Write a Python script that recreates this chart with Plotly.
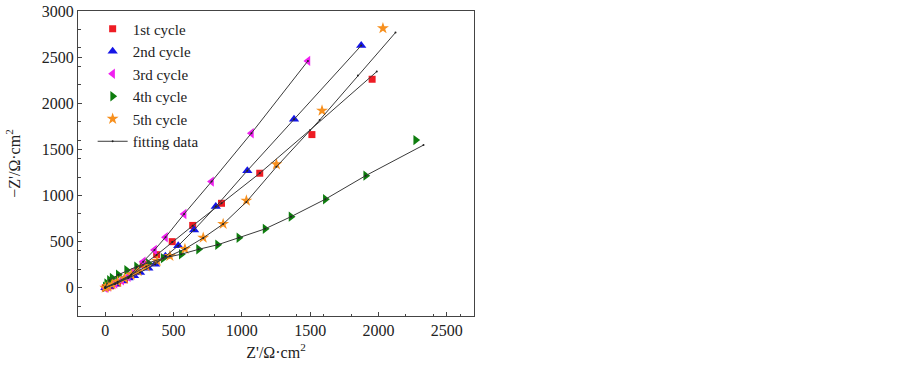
import plotly.graph_objects as go

# ---- data ----
c1_x = [0, 40, 90, 140, 181, 217, 278, 376, 490, 640, 851, 1131, 1513, 1954]
c1_y = [0, 20, 50, 85, 128, 175, 254, 358, 499, 675, 915, 1241, 1660, 2260]

c2_x = [0, 30, 70, 120, 170, 210, 254, 315, 365, 440, 534, 650, 809, 1040, 1382, 1874]
c2_y = [0, 15, 40, 75, 105, 130, 165, 210, 255, 340, 455, 626, 879, 1269, 1826, 2625]

c3_x = [0, 22, 71, 120, 168, 220, 278, 360, 441, 577, 778, 1070, 1484]
c3_y = [0, 12, 45, 80, 118, 190, 282, 409, 547, 799, 1150, 1675, 2459]

c4_x = [0, 10, 30, 50, 95, 156, 229, 315, 424, 556, 683, 822, 978, 1170, 1360, 1611, 1907, 2273]
c4_y = [10, 45, 80, 105, 140, 190, 228, 264, 320, 363, 416, 465, 542, 638, 770, 959, 1215, 1600]

c5_x = [0, 20, 50, 90, 140, 190, 240, 300, 380, 473, 583, 717, 863, 1033, 1253, 1587, 2033]
c5_y = [0, 15, 35, 65, 100, 140, 180, 230, 290, 344, 420, 542, 691, 944, 1338, 1920, 2813]

# fitting curves
f1_x = [0, 90, 181, 278, 376, 490, 640, 851, 1131, 1500, 1988]
f1_y = [0, 50, 125, 250, 355, 495, 672, 915, 1241, 1710, 2343]
f2_x = [0, 70, 170, 254, 365, 440, 534, 650, 809, 1040, 1382, 1874]
f2_y = [0, 40, 105, 165, 255, 340, 455, 626, 879, 1269, 1826, 2625]
f3_x = [0, 71, 168, 278, 360, 441, 577, 778, 1070, 1484]
f3_y = [0, 45, 118, 282, 409, 547, 799, 1150, 1675, 2459]
f4_x = [0, 30, 95, 229, 424, 556, 683, 822, 978, 1170, 1360, 1611, 1907, 2330]
f4_y = [10, 80, 140, 228, 320, 363, 416, 465, 542, 638, 770, 959, 1215, 1546]
f5_x = [0, 90, 190, 300, 473, 583, 717, 863, 1033, 1253, 1570, 1850, 2125]
f5_y = [0, 65, 140, 230, 344, 420, 540, 690, 930, 1310, 1818, 2300, 2766]

names = ["1st cycle", "2nd cycle", "3rd cycle", "4th cycle", "5th cycle"]
colors = ["#ee1c24", "#1515e6", "#f020f0", "#0e7d0e", "#f7901e"]
symbols = ["square", "triangle-up", "triangle-left", "triangle-right", "star"]
sizes = [7, 9, 9, 9, 9]
series = [(c1_x, c1_y), (c2_x, c2_y), (c3_x, c3_y), (c4_x, c4_y), (c5_x, c5_y)]
fits = [(f1_x, f1_y), (f2_x, f2_y), (f3_x, f3_y), (f4_x, f4_y), (f5_x, f5_y)]

FONT = "Liberation Serif, Times New Roman, serif"
fig = go.Figure()

for (x, y), n, c, s, sz in zip(series, names, colors, symbols, sizes):
    fig.add_trace(go.Scatter(x=x, y=y, mode="markers", name=n,
                             marker=dict(color=c, symbol=s, size=sz, line=dict(width=0))))

for i, (x, y) in enumerate(fits):
    fig.add_trace(go.Scatter(x=x, y=y, mode="lines+markers", name="fitting data",
                             legendgroup="fit", showlegend=(i == 0),
                             line=dict(color="#3a3a3a", width=1),
                             marker=dict(color="#222", size=2)))

axis_common = dict(showline=True, linecolor="#444", linewidth=1, mirror=True,
                   ticks="inside", ticklen=4, tickcolor="#444", showgrid=False,
                   zeroline=False, automargin=False,
                   tickfont=dict(family=FONT, size=16, color="#222"),
                   minor=dict(ticks="inside", ticklen=2.5, tickcolor="#444"))

fig.update_xaxes(range=[-200, 2700], tickvals=[0, 500, 1000, 1500, 2000, 2500],
                 title=dict(text="Z'/Ω·cm<sup>2</sup>", font=dict(family=FONT, size=16, color="#222"),
                            standoff=8),
                 **axis_common)
fig.update_yaxes(range=[-307, 3000], tickvals=[0, 500, 1000, 1500, 2000, 2500, 3000],
                 title=dict(text="−Z'/Ω·cm<sup>2</sup>", font=dict(family=FONT, size=16, color="#222"),
                            standoff=17),
                 **axis_common)

fig.update_layout(
    width=903, height=367,
    margin=dict(l=78, r=429, t=11, b=51),
    plot_bgcolor="white", paper_bgcolor="white",
    legend=dict(x=0.037, y=0.995, xanchor="left", yanchor="top",
                bgcolor="rgba(0,0,0,0)", font=dict(family=FONT, size=15, color="#222"),
                tracegroupgap=0, itemwidth=30),
)

fig.write_html("out.html", config={"displayModeBar": False},
               post_script="document.body.style.margin='0';")
